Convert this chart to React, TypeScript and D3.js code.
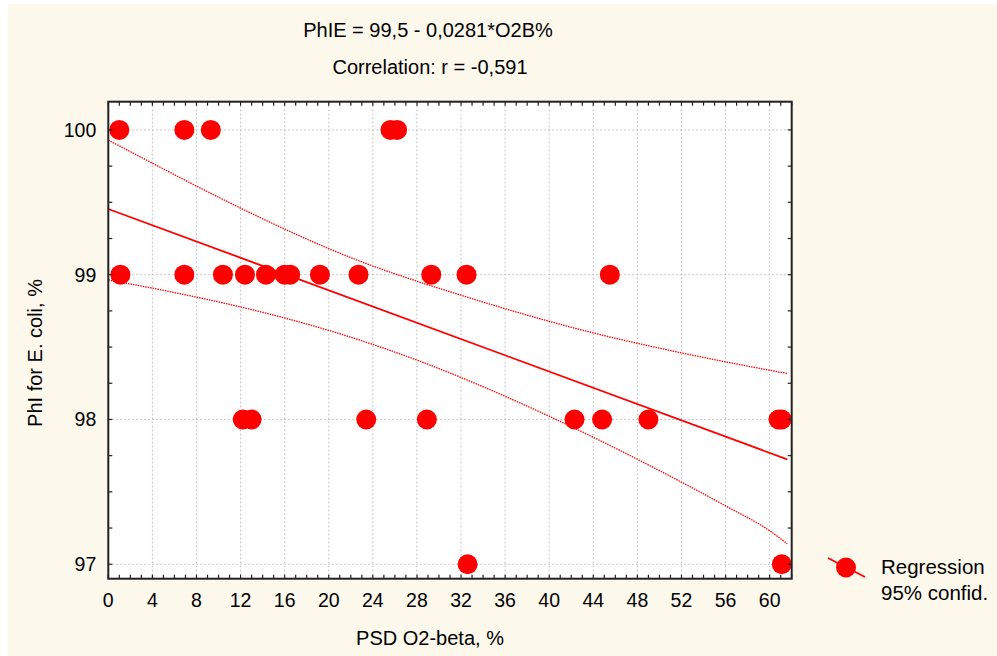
import React from "react";
import * as d3 from "d3";

const pointsX = [1.0, 6.9, 9.3, 25.6, 26.2, 1.1, 6.9, 10.4, 12.4, 14.3, 16.0, 16.5, 19.2, 22.7, 29.3, 32.5, 45.5, 12.2, 13.0, 23.4, 28.9, 42.3, 44.8, 49.0, 60.8, 61.1, 32.6, 61.1];
const pointsY = [100, 100, 100, 100, 100, 99, 99, 99, 99, 99, 99, 99, 99, 99, 99, 99, 99, 98, 98, 98, 98, 98, 98, 98, 98, 98, 97, 97];

// regression line end points and 95% band
const fitX = [0, 61.6];
const fitY = [99.454, 97.724];
const bandX = [0, 4, 8, 12, 16, 20, 24, 28, 32, 36, 40, 44, 48, 52, 56, 60, 61.6];
const bandUpper = [99.93, 99.77, 99.612, 99.46, 99.315, 99.18, 99.06, 98.955, 98.858, 98.765, 98.678, 98.598, 98.526, 98.46, 98.398, 98.34, 98.318];
const bandLower = [98.964, 98.907, 98.845, 98.777, 98.701, 98.615, 98.518, 98.41, 98.29, 98.16, 98.022, 97.877, 97.725, 97.567, 97.403, 97.231, 97.141];

const xTicks = d3.range(0, 61, 4);
const yTicks = [97, 98, 99, 100];

const titleLines = ["PhIE = 99,5 - 0,0281*O2B%", "Correlation: r = -0,591"];
const xTitle = "PSD O2-beta, %";
const yTitle = "PhI for E. coli, %";
const legendLines = ["Regression", "95% confid."];

const W = 997;
const H = 656;
const margin = { top: 101.7, right: 205.3, bottom: 77.3, left: 108.3 };
const red = "#ff0000";
const font = "'Liberation Sans', Arial, sans-serif";

const App = () => {
  const x = d3.scaleLinear().domain([0, 62]).range([margin.left, W - margin.right]);
  const y = d3.scaleLinear().domain([96.9, 100.195]).range([H - margin.bottom, margin.top]);
  const x0 = margin.left, x1 = W - margin.right, y0 = margin.top, y1 = H - margin.bottom;

  const fitLine = d3.line<number>().x((d, i) => x(fitX[i])).y((d) => y(d));
  const band = (vals: number[]) =>
    d3.line<number>().x((d, i) => x(bandX[i])).y((d) => y(d)).curve(d3.curveMonotoneX)(vals) || "";

  const minorX = d3.range(0, 63, 1);
  const minorY = d3.range(97, 100.01, 0.25);

  return (
    <svg width={W} height={H} style={{ position: "absolute", left: 0, top: 0 }} fontFamily={font}>
      <rect x={0} y={0} width={W} height={H} fill="#ffffff" />
      <rect x={8} y={4} width={W - 8} height={H - 4} fill="#fdf8ec" />
      <rect x={x0} y={y0} width={x1 - x0} height={y1 - y0} fill="#ffffff" />

      {/* grid */}
      <g stroke="#b8b8b8" strokeWidth={1} strokeDasharray="1.5,2.5">
        {xTicks.map((t) => (
          <line key={"gx" + t} x1={x(t)} x2={x(t)} y1={y0} y2={y1} />
        ))}
        {yTicks.map((t) => (
          <line key={"gy" + t} x1={x0} x2={x1} y1={y(t)} y2={y(t)} />
        ))}
      </g>

      {/* confidence bands and fit */}
      <path d={band(bandUpper)} fill="none" stroke={red} strokeWidth={1.3} strokeDasharray="1.5,1" />
      <path d={band(bandLower)} fill="none" stroke={red} strokeWidth={1.3} strokeDasharray="1.5,1" />
      <path d={fitLine(fitY) || ""} fill="none" stroke={red} strokeWidth={1.8} />

      {/* points */}
      <g fill={red}>
        {pointsX.map((px, i) => (
          <circle key={i} cx={x(px)} cy={y(pointsY[i])} r={10} />
        ))}
      </g>

      {/* frame and inner ticks */}
      <g stroke="#222" strokeWidth={1.2}>
        {minorX.map((t) => (
          <g key={"tx" + t}>
            <line x1={x(t)} x2={x(t)} y1={y1} y2={y1 - 4} />
            <line x1={x(t)} x2={x(t)} y1={y0} y2={y0 + 4} />
          </g>
        ))}
        {minorY.map((t) => (
          <g key={"ty" + t}>
            <line x1={x0} x2={x0 + 4} y1={y(t)} y2={y(t)} />
            <line x1={x1} x2={x1 - 4} y1={y(t)} y2={y(t)} />
          </g>
        ))}
      </g>
      <rect x={x0} y={y0} width={x1 - x0} height={y1 - y0} fill="none" stroke="#222" strokeWidth={2} />

      {/* tick labels */}
      <g fontSize={19.5} fill="#000">
        {xTicks.map((t) => (
          <text key={"lx" + t} x={x(t)} y={y1 + 28.5} textAnchor="middle">{t}</text>
        ))}
        {yTicks.map((t) => (
          <text key={"ly" + t} x={x0 - 12} y={y(t)} dy="0.35em" textAnchor="end">{t}</text>
        ))}
      </g>

      {/* titles */}
      <g fontSize={20} fill="#000" textAnchor="middle">
        <text x={428} y={37}>{titleLines[0]}</text>
        <text x={430} y={73.5}>{titleLines[1]}</text>
        <text x={430} y={645}>{xTitle}</text>
        <text transform={`translate(42,353) rotate(-90)`}>{yTitle}</text>
      </g>

      {/* legend */}
      <line x1={828} y1={558} x2={865} y2={577} stroke={red} strokeWidth={1.8} />
      <circle cx={846} cy={567.5} r={10} fill={red} />
      <g fontSize={20.5} fill="#000">
        <text x={881} y={574}>{legendLines[0]}</text>
        <text x={881} y={600}>{legendLines[1]}</text>
      </g>
    </svg>
  );
};

export default App;
